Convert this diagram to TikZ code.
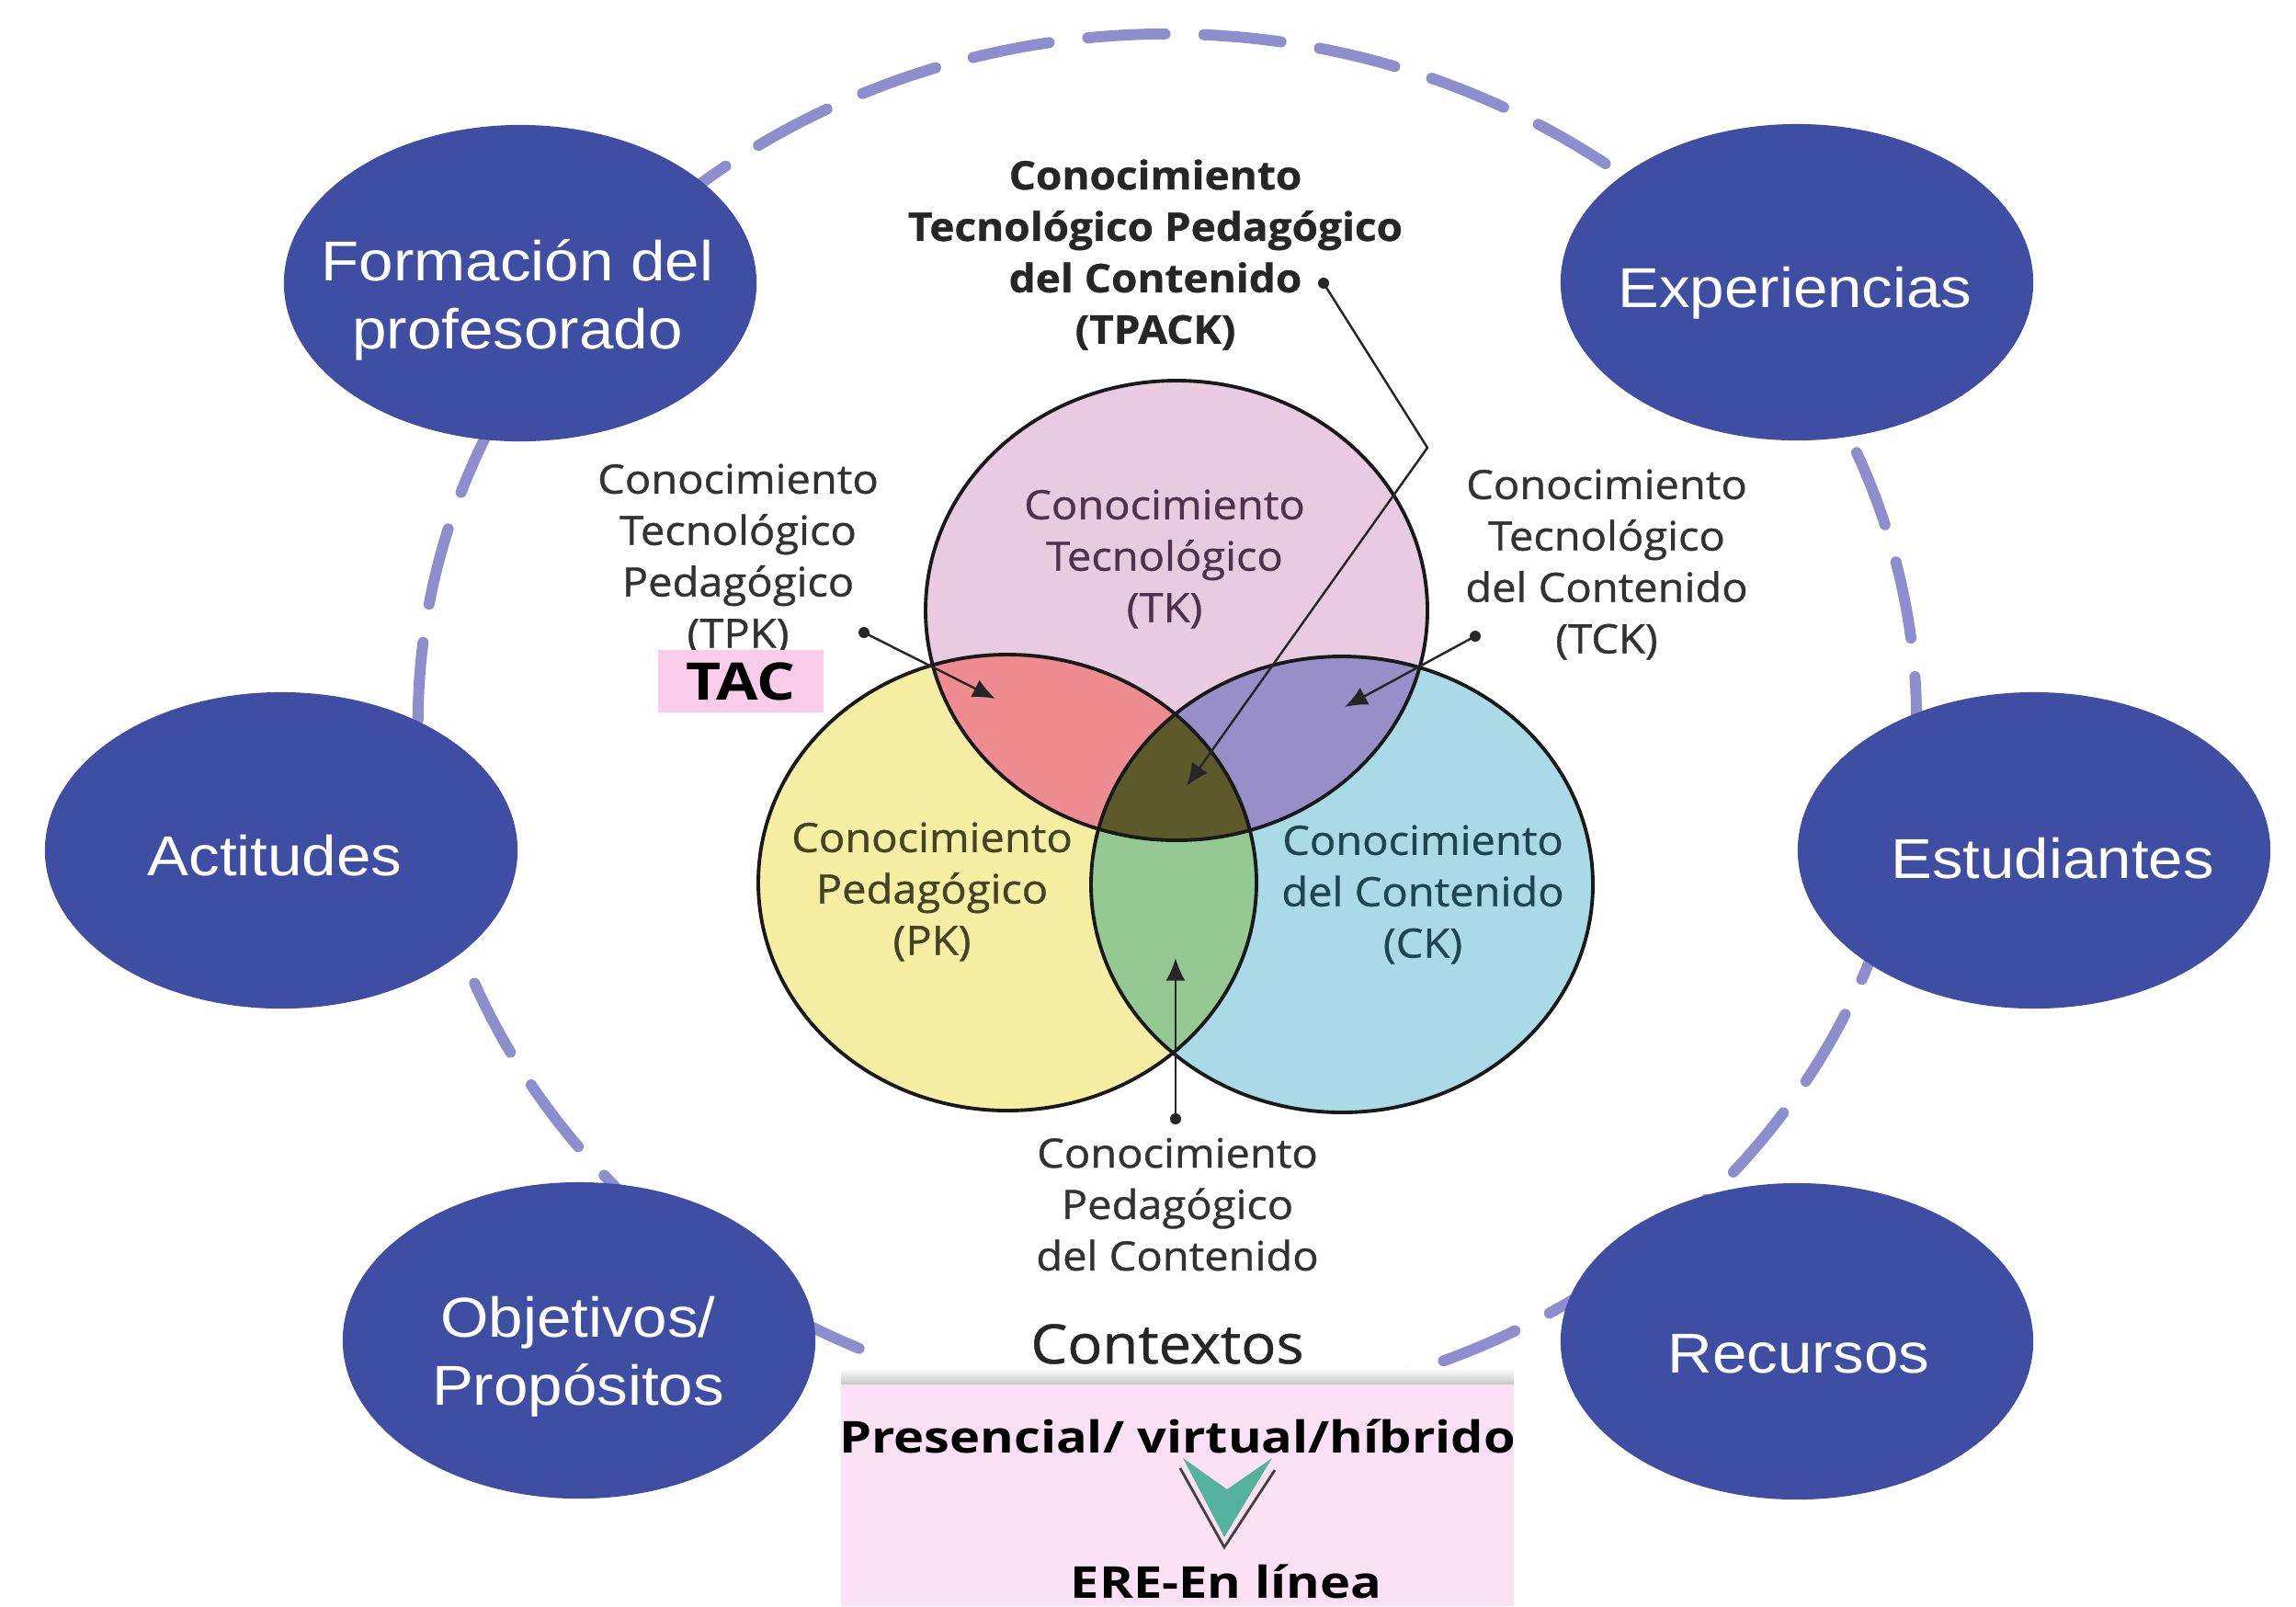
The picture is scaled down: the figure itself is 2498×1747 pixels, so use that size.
\documentclass[tikz,border=0pt]{standalone}
\usepackage{fontspec}
\usetikzlibrary{shapes.geometric,arrows.meta}
\newfontfamily\blobfont[FakeStretch=1.1]{Liberation Sans}
\newfontfamily\vennfont[FakeStretch=1.07,FakeBold=0.8]{Open Sans}
\newfontfamily\ctxfont[FakeStretch=1.17]{Open Sans}
\definecolor{blobblue}{RGB}{63,78,162}
\definecolor{ringlilac}{RGB}{142,141,205}
\definecolor{tkpink}{RGB}{233,203,225}
\definecolor{pkyellow}{RGB}{246,238,162}
\definecolor{ckcyan}{RGB}{169,218,230}
\definecolor{tpksalmon}{RGB}{238,140,146}
\definecolor{tckviolet}{RGB}{152,142,200}
\definecolor{pckgreen}{RGB}{150,200,148}
\definecolor{tpackolive}{RGB}{92,90,42}
\definecolor{boxpink}{RGB}{252,225,244}
\definecolor{tacpink}{RGB}{249,204,234}
\definecolor{chevteal}{RGB}{84,178,158}
\definecolor{labelgray}{RGB}{50,50,50}
\definecolor{tktext}{RGB}{80,50,80}
\definecolor{pktext}{RGB}{70,66,36}
\definecolor{cktext}{RGB}{30,70,80}
% the three knowledge circles
\newcommand\tkshape{(tkc) ellipse [x radius=273, y radius=250]}
\newcommand\pkshape{(pkc) ellipse [x radius=271, y radius=248]}
\newcommand\ckshape{(ckc) ellipse [x radius=273, y radius=248]}
\tikzset{
  blob/.style={ellipse, fill=blobblue, minimum width=5.14cm, minimum height=3.44cm, inner sep=0pt},
  blobtxt/.style={text=white, font=\blobfont\fontsize{17.4pt}{21pt}\selectfont, align=center, inner sep=0pt},
  vennlbl/.style={font=\vennfont\fontsize{12.5pt}{15.9pt}\selectfont, align=center, inner sep=0pt},
  vennline/.style={draw=black!90, line width=1.1pt},
  pointer/.style={draw=black!85, line width=0.7pt, -{Latex[length=7pt,width=6pt]}},
  ring/.style={draw=ringlilac, line width=3.4pt, dash pattern=on 24pt off 12pt, line cap=round},
}
\begin{document}
\begin{tikzpicture}[x=0.01cm,y=-0.01cm]
  \useasboundingbox (0,0) rectangle (2498,1747);
  \fill[white] (0,0) rectangle (2498,1747);
  % dashed ring behind everything
  \draw[ring] (1270,785) ++(114.3:815 and 748) arc[start angle=114.3, end angle=431.6, x radius=815, y radius=748];
  % factors round the ring
  \node[blob] (form) at (566,308) {};
  \node[blob] (expe) at (1955,307) {};
  \node[blob] (acti) at (306,925) {};
  \node[blob] (estu) at (2213,925) {};
  \node[blob] (obje) at (630,1458) {};
  \node[blob] (recu) at (1955,1459) {};
  \node[blobtxt] (formtxt) at (563,326) {Formación del\\profesorado};
  \node[blobtxt] (expetxt) at (1953,319) {Experiencias};
  \node[blobtxt] (actitxt) at (299,931) {Actitudes};
  \node[blobtxt] (estutxt) at (2233,934) {Estudiantes};
  \node[blobtxt] (objetxt) at (629,1476) {Objetivos/\\Propósitos};
  \node[blobtxt] (recutxt) at (1957,1473) {Recursos};
  % venn diagram
  \coordinate (tkc) at (1280,664);
  \coordinate (pkc) at (1096,960);
  \coordinate (ckc) at (1460,962);
  \fill[tkpink] \tkshape;
  \fill[pkyellow] \pkshape;
  \fill[ckcyan] \ckshape;
  \begin{scope} \clip \tkshape; \fill[tpksalmon] \pkshape; \end{scope}
  \begin{scope} \clip \tkshape; \fill[tckviolet] \ckshape; \end{scope}
  \begin{scope} \clip \pkshape; \fill[pckgreen] \ckshape; \end{scope}
  \begin{scope} \clip \tkshape; \clip \pkshape; \fill[tpackolive] \ckshape; \end{scope}
  \draw[vennline] \tkshape;
  \draw[vennline] \pkshape;
  \draw[vennline] \ckshape;
  \node[vennlbl, text=tktext] (tk) at (1267,608) {Conocimiento\\Tecnológico\\(TK)};
  \node[vennlbl, text=pktext] (pk) at (1014,970) {Conocimiento\\Pedagógico\\(PK)};
  \node[vennlbl, text=cktext] (ck) at (1548,973) {Conocimiento\\del Contenido\\(CK)};
  % outside labels and pointers
  \node[vennlbl, text=labelgray] (tpk) at (803,608) {Conocimiento\\Tecnológico\\Pedagógico\\(TPK)};
  \node[vennlbl, text=labelgray] (tck) at (1748,614) {Conocimiento\\Tecnológico\\del Contenido\\(TCK)};
  \node[vennlbl, text=labelgray] (pck) at (1281,1310) {Conocimiento\\Pedagógico\\del Contenido};
  \node[vennlbl, text=black!85, font=\vennfont\bfseries\fontsize{12.2pt}{15.9pt}\selectfont] (tpack) at (1257,277) {Conocimiento\\Tecnológico Pedagógico\\del Contenido\\(TPACK)};
  \coordinate (tpkdot) at (940,688);     \coordinate (tpktip) at (1083,760);
  \coordinate (tckdot) at (1605,692);    \coordinate (tcktip) at (1463,769);
  \coordinate (tpackdot) at (1440,308);  \coordinate (tpackbend) at (1553,487);
  \coordinate (tpacktip) at (1291,855);
  \coordinate (pckdot) at (1279,1217);   \coordinate (pcktip) at (1279,1042);
  \draw[pointer] (tpkdot) -- (tpktip);
  \draw[pointer] (tckdot) -- (tcktip);
  \draw[pointer] (tpackdot) -- (tpackbend) -- (tpacktip);
  \draw[pointer] (pckdot) -- (pcktip);
  \foreach \d in {tpkdot,tckdot,tpackdot,pckdot}
    \fill[black!85] (\d) circle [radius=6];
  \node[fill=tacpink, minimum width=1.8cm, minimum height=0.68cm, inner sep=0pt, font=\ctxfont\bfseries\fontsize{16pt}{18pt}\selectfont] (tac) at (806,741) {TAC};
  % contexts
  \node[anchor=base, text=black!85, font=\vennfont\fontsize{16.8pt}{20pt}\selectfont] (ctx) at (1270,1483) {Contextos};
  \shade[top color=white, bottom color=black!22] (915,1488) rectangle (1647,1506);
  \node[fill=boxpink, minimum width=7.32cm, minimum height=2.41cm, inner sep=0pt] (ctxbox) at (1281,1626.5) {};
  \node[anchor=base, font=\ctxfont\bfseries\fontsize{13.6pt}{16pt}\selectfont] (pvh) at (1281,1580) {Presencial/ virtual/híbrido};
  \node[anchor=base, font=\ctxfont\bfseries\fontsize{13.6pt}{16pt}\selectfont] (ere) at (1334,1738) {ERE-En línea};
  \fill[chevteal] (1287,1586) -- (1335,1620) -- (1384,1586) -- (1332,1672) -- cycle;
  \draw[black!75, line width=0.8pt] (1284,1597) -- (1332,1683) -- (1387,1599);
\end{tikzpicture}
\end{document}
